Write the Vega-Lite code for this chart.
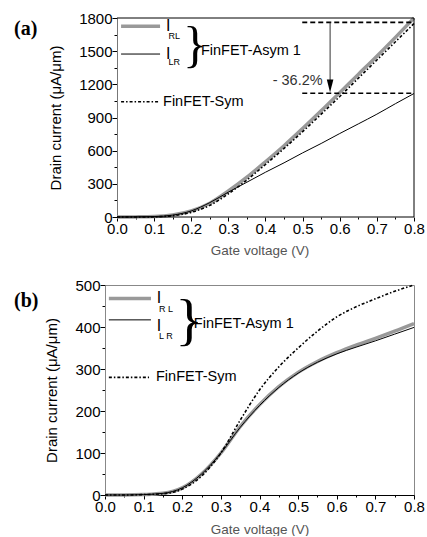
{
  "$schema": "https://vega.github.io/schema/vega-lite/v6.json",
  "background": "white",
  "padding": {"left": 13, "top": 11, "right": 0, "bottom": 0},
  "columns": 1,
  "spacing": 20,
  "config": {
    "font": "Liberation Sans",
    "view": {"stroke": "#000", "strokeWidth": 1},
    "axis": {"grid": false, "labelFont": "Liberation Sans", "labelFontSize": 15, "labelColor": "#000", "titleFont": "Liberation Sans", "domainColor": "#000", "tickColor": "#000", "labelFlush": false, "labelOverlap": false},
    "line": {"interpolate": "monotone"}
  },
  "datasets": {
    "a": [
      {"x": 0, "y": 0, "s": "RL"}, {"x": 0.05, "y": 1, "s": "RL"}, {"x": 0.1, "y": 4, "s": "RL"}, {"x": 0.15, "y": 18, "s": "RL"}, {"x": 0.2, "y": 55, "s": "RL"}, {"x": 0.25, "y": 125, "s": "RL"}, {"x": 0.3, "y": 235, "s": "RL"}, {"x": 0.35, "y": 360, "s": "RL"}, {"x": 0.4, "y": 500, "s": "RL"}, {"x": 0.45, "y": 645, "s": "RL"}, {"x": 0.5, "y": 800, "s": "RL"}, {"x": 0.55, "y": 960, "s": "RL"}, {"x": 0.6, "y": 1125, "s": "RL"}, {"x": 0.65, "y": 1290, "s": "RL"}, {"x": 0.7, "y": 1455, "s": "RL"}, {"x": 0.75, "y": 1625, "s": "RL"}, {"x": 0.8, "y": 1800, "s": "RL"},
      {"x": 0, "y": 0, "s": "LR"}, {"x": 0.05, "y": 1, "s": "LR"}, {"x": 0.1, "y": 4, "s": "LR"}, {"x": 0.15, "y": 17, "s": "LR"}, {"x": 0.2, "y": 55, "s": "LR"}, {"x": 0.25, "y": 130, "s": "LR"}, {"x": 0.3, "y": 225, "s": "LR"}, {"x": 0.35, "y": 315, "s": "LR"}, {"x": 0.4, "y": 405, "s": "LR"}, {"x": 0.45, "y": 490, "s": "LR"}, {"x": 0.5, "y": 580, "s": "LR"}, {"x": 0.55, "y": 665, "s": "LR"}, {"x": 0.6, "y": 755, "s": "LR"}, {"x": 0.65, "y": 842, "s": "LR"}, {"x": 0.7, "y": 930, "s": "LR"}, {"x": 0.75, "y": 1025, "s": "LR"}, {"x": 0.8, "y": 1117, "s": "LR"},
      {"x": 0, "y": 0, "s": "Sym"}, {"x": 0.05, "y": 0, "s": "Sym"}, {"x": 0.1, "y": 2, "s": "Sym"}, {"x": 0.15, "y": 12, "s": "Sym"}, {"x": 0.2, "y": 42, "s": "Sym"}, {"x": 0.25, "y": 105, "s": "Sym"}, {"x": 0.3, "y": 210, "s": "Sym"}, {"x": 0.35, "y": 335, "s": "Sym"}, {"x": 0.4, "y": 475, "s": "Sym"}, {"x": 0.45, "y": 620, "s": "Sym"}, {"x": 0.5, "y": 772, "s": "Sym"}, {"x": 0.55, "y": 930, "s": "Sym"}, {"x": 0.6, "y": 1090, "s": "Sym"}, {"x": 0.65, "y": 1255, "s": "Sym"}, {"x": 0.7, "y": 1420, "s": "Sym"}, {"x": 0.75, "y": 1585, "s": "Sym"}, {"x": 0.8, "y": 1750, "s": "Sym"}
    ],
    "b": [
      {"x": 0, "y": 0, "s": "RL"}, {"x": 0.05, "y": 0, "s": "RL"}, {"x": 0.1, "y": 1, "s": "RL"}, {"x": 0.15, "y": 4, "s": "RL"}, {"x": 0.2, "y": 17, "s": "RL"}, {"x": 0.25, "y": 50, "s": "RL"}, {"x": 0.3, "y": 100, "s": "RL"}, {"x": 0.35, "y": 163, "s": "RL"}, {"x": 0.4, "y": 215, "s": "RL"}, {"x": 0.45, "y": 258, "s": "RL"}, {"x": 0.5, "y": 292, "s": "RL"}, {"x": 0.55, "y": 318, "s": "RL"}, {"x": 0.6, "y": 339, "s": "RL"}, {"x": 0.65, "y": 357, "s": "RL"}, {"x": 0.7, "y": 373, "s": "RL"}, {"x": 0.75, "y": 390, "s": "RL"}, {"x": 0.8, "y": 408, "s": "RL"},
      {"x": 0, "y": 0, "s": "LR"}, {"x": 0.05, "y": 0, "s": "LR"}, {"x": 0.1, "y": 1, "s": "LR"}, {"x": 0.15, "y": 4, "s": "LR"}, {"x": 0.2, "y": 17, "s": "LR"}, {"x": 0.25, "y": 50, "s": "LR"}, {"x": 0.3, "y": 100, "s": "LR"}, {"x": 0.35, "y": 161, "s": "LR"}, {"x": 0.4, "y": 213, "s": "LR"}, {"x": 0.45, "y": 256, "s": "LR"}, {"x": 0.5, "y": 290, "s": "LR"}, {"x": 0.55, "y": 316, "s": "LR"}, {"x": 0.6, "y": 336, "s": "LR"}, {"x": 0.65, "y": 352, "s": "LR"}, {"x": 0.7, "y": 367, "s": "LR"}, {"x": 0.75, "y": 383, "s": "LR"}, {"x": 0.8, "y": 399, "s": "LR"},
      {"x": 0, "y": 0, "s": "Sym"}, {"x": 0.05, "y": 0, "s": "Sym"}, {"x": 0.1, "y": 1, "s": "Sym"}, {"x": 0.15, "y": 3, "s": "Sym"}, {"x": 0.2, "y": 14, "s": "Sym"}, {"x": 0.25, "y": 45, "s": "Sym"}, {"x": 0.3, "y": 100, "s": "Sym"}, {"x": 0.35, "y": 178, "s": "Sym"}, {"x": 0.4, "y": 250, "s": "Sym"}, {"x": 0.45, "y": 305, "s": "Sym"}, {"x": 0.5, "y": 350, "s": "Sym"}, {"x": 0.55, "y": 390, "s": "Sym"}, {"x": 0.6, "y": 424, "s": "Sym"}, {"x": 0.65, "y": 448, "s": "Sym"}, {"x": 0.7, "y": 467, "s": "Sym"}, {"x": 0.75, "y": 485, "s": "Sym"}, {"x": 0.8, "y": 500, "s": "Sym"}
    ],
    "legA": [
      {"s": "RL", "x": 0.011, "x2": 0.116, "y": 1725}, {"s": "LR", "x": 0.011, "x2": 0.116, "y": 1474}, {"s": "Sym", "x": 0.011, "x2": 0.116, "y": 1042}
    ],
    "legB": [
      {"s": "RL", "x": 0.01, "x2": 0.119, "y": 468}, {"s": "LR", "x": 0.01, "x2": 0.119, "y": 417}, {"s": "Sym", "x": 0.01, "x2": 0.114, "y": 280}
    ]
  },
  "concat": [
    {
      "width": 309,
      "height": 199,
      "view": {"stroke": null},
      "title": {"text": "(a)", "anchor": "start", "frame": "group", "font": "Liberation Serif", "fontWeight": "bold", "fontSize": 20, "dx": -91, "dy": 28, "offset": 0, "color": "#000"},
      "layer": [
        {
          "data": {"name": "a"},
          "transform": [{"filter": "datum.s == 'RL'"}],
          "mark": {"type": "line", "color": "#999999", "strokeWidth": 3.5},
          "encoding": {
            "x": {"field": "x", "type": "quantitative", "scale": {"domain": [-0.0323, 0.8], "nice": false, "zero": false},
              "axis": {"title": "Gate voltage (V)", "values": [0, 0.05, 0.1, 0.15, 0.2, 0.25, 0.3, 0.35, 0.4, 0.45, 0.5, 0.55, 0.6, 0.65, 0.7, 0.75, 0.8], "tickCount": 40, "domain": false,
                "labelExpr": "abs(datum.value*10 - round(datum.value*10)) > 0.01 ? '' : format(datum.value, '.1f')",
                "tickSize": {"condition": {"test": "abs(datum.value*10 - round(datum.value*10)) > 0.01", "value": 2}, "value": 4},
                "labelOverlap": false, "labelPadding": 0, "titleColor": "#555", "titleFontSize": 13.5, "titleFontWeight": "normal", "titlePadding": 7.5}},
            "y": {"field": "y", "type": "quantitative", "scale": {"domain": [0, 1800], "nice": false},
              "axis": {"title": "Drain current (μA/μm)", "values": [0, 150, 300, 450, 600, 750, 900, 1050, 1200, 1350, 1500, 1650, 1800], "tickCount": 40, "offset": -12,
                "labelExpr": "datum.value % 300 == 0 ? format(datum.value, 'd') : ''",
                "tickSize": {"condition": {"test": "datum.value % 300 != 0", "value": 3}, "value": 5},
                "labelOverlap": false, "labelPadding": 0, "domainColor": "#777", "titleColor": "#000", "titleFontSize": 15, "titleFontWeight": "normal", "titlePadding": 15}}
          }
        },
        {
          "data": {"values": [{"x": 0, "x2": 0.8, "y": 0}, {"x": 0, "x2": 0.8, "y": 1800}]},
          "mark": {"type": "rule", "color": "#000", "strokeWidth": 1},
          "encoding": {"x": {"field": "x", "type": "quantitative"}, "x2": {"field": "x2"}, "y": {"field": "y", "type": "quantitative"}}
        },
        {
          "data": {"values": [{"x": 0.8, "y": 0, "y2": 1800}]},
          "mark": {"type": "rule", "color": "#000", "strokeWidth": 1},
          "encoding": {"x": {"field": "x", "type": "quantitative"}, "y": {"field": "y", "type": "quantitative"}, "y2": {"field": "y2"}}
        },
        {
          "data": {"name": "a"},
          "transform": [{"filter": "datum.s == 'Sym'"}],
          "mark": {"type": "line", "color": "#000", "strokeWidth": 1.6, "strokeDash": [3, 2, 1.5, 2]},
          "encoding": {"x": {"field": "x", "type": "quantitative"}, "y": {"field": "y", "type": "quantitative"}}
        },
        {
          "data": {"name": "a"},
          "transform": [{"filter": "datum.s == 'LR'"}],
          "mark": {"type": "line", "color": "#000", "strokeWidth": 1},
          "encoding": {"x": {"field": "x", "type": "quantitative"}, "y": {"field": "y", "type": "quantitative"}}
        },
        {
          "data": {"values": [{"x": 0.499, "x2": 0.8, "y": 1760}, {"x": 0.499, "x2": 0.8, "y": 1120}]},
          "mark": {"type": "rule", "color": "#000", "strokeWidth": 1.6, "strokeDash": [5, 3]},
          "encoding": {"x": {"field": "x", "type": "quantitative"}, "x2": {"field": "x2"}, "y": {"field": "y", "type": "quantitative"}}
        },
        {
          "data": {"values": [{"x": 0.574, "y": 1760, "y2": 1200}]},
          "mark": {"type": "rule", "color": "#333", "strokeWidth": 1},
          "encoding": {"x": {"field": "x", "type": "quantitative"}, "y": {"field": "y", "type": "quantitative"}, "y2": {"field": "y2"}}
        },
        {
          "data": {"values": [{"x": 0.574, "y": 1185}]},
          "mark": {"type": "point", "shape": "M-0.5,-1L0.5,-1L0,1Z", "filled": true, "color": "#000", "size": 170, "opacity": 1},
          "encoding": {"x": {"field": "x", "type": "quantitative"}, "y": {"field": "y", "type": "quantitative"}}
        },
        {
          "data": {"values": [{"x": 0.554, "y": 1230, "t": "- 36.2%"}]},
          "mark": {"type": "text", "align": "right", "baseline": "middle", "fontSize": 14.5, "color": "#333"},
          "encoding": {"x": {"field": "x", "type": "quantitative"}, "y": {"field": "y", "type": "quantitative"}, "text": {"field": "t"}}
        },
        {
          "data": {"name": "legA"},
          "transform": [{"filter": "datum.s == 'RL'"}],
          "mark": {"type": "rule", "color": "#999999", "strokeWidth": 3.5},
          "encoding": {"x": {"field": "x", "type": "quantitative"}, "x2": {"field": "x2"}, "y": {"field": "y", "type": "quantitative"}}
        },
        {
          "data": {"name": "legA"},
          "transform": [{"filter": "datum.s == 'LR'"}],
          "mark": {"type": "rule", "color": "#000", "strokeWidth": 1},
          "encoding": {"x": {"field": "x", "type": "quantitative"}, "x2": {"field": "x2"}, "y": {"field": "y", "type": "quantitative"}}
        },
        {
          "data": {"name": "legA"},
          "transform": [{"filter": "datum.s == 'Sym'"}],
          "mark": {"type": "rule", "color": "#000", "strokeWidth": 1.6, "strokeDash": [3, 2, 1.5, 2]},
          "encoding": {"x": {"field": "x", "type": "quantitative"}, "x2": {"field": "x2"}, "y": {"field": "y", "type": "quantitative"}}
        },
        {
          "data": {"values": [{"x": 0.132, "y": 1725, "t": "I"}, {"x": 0.132, "y": 1471, "t": "I"}]},
          "mark": {"type": "text", "align": "left", "baseline": "middle", "fontSize": 16, "color": "#000"},
          "encoding": {"x": {"field": "x", "type": "quantitative"}, "y": {"field": "y", "type": "quantitative"}, "text": {"field": "t"}}
        },
        {
          "data": {"values": [{"x": 0.139, "y": 1634, "t": "RL"}, {"x": 0.139, "y": 1398, "t": "LR"}]},
          "mark": {"type": "text", "align": "left", "baseline": "middle", "fontSize": 9, "color": "#000"},
          "encoding": {"x": {"field": "x", "type": "quantitative"}, "y": {"field": "y", "type": "quantitative"}, "text": {"field": "t"}}
        },
        {
          "data": {"values": [{"x": 0.178, "y": 1548, "t": "}"}]},
          "mark": {"type": "text", "align": "left", "baseline": "middle", "fontSize": 50, "font": "Liberation Serif", "color": "#000"},
          "encoding": {"x": {"field": "x", "type": "quantitative"}, "y": {"field": "y", "type": "quantitative"}, "text": {"field": "t"}}
        },
        {
          "data": {"values": [{"x": 0.226, "y": 1498, "t": "FinFET-Asym 1"}, {"x": 0.124, "y": 1044, "t": "FinFET-Sym"}]},
          "mark": {"type": "text", "align": "left", "baseline": "middle", "fontSize": 14.5, "color": "#000"},
          "encoding": {"x": {"field": "x", "type": "quantitative"}, "y": {"field": "y", "type": "quantitative"}, "text": {"field": "t"}}
        }
      ]
    },
    {
      "width": 309,
      "height": 210,
      "view": {"stroke": "#888"},
      "title": {"text": "(b)", "anchor": "start", "frame": "group", "font": "Liberation Serif", "fontWeight": "bold", "fontSize": 20, "dx": -91, "dy": 33, "offset": 0, "color": "#000"},
      "layer": [
        {
          "data": {"name": "b"},
          "transform": [{"filter": "datum.s == 'RL'"}],
          "mark": {"type": "line", "color": "#999999", "strokeWidth": 3.5},
          "encoding": {
            "x": {"field": "x", "type": "quantitative", "scale": {"domain": [0, 0.8], "nice": false},
              "axis": {"title": "Gate voltage (V)", "values": [0, 0.05, 0.1, 0.15, 0.2, 0.25, 0.3, 0.35, 0.4, 0.45, 0.5, 0.55, 0.6, 0.65, 0.7, 0.75, 0.8], "tickCount": 40,
                "labelExpr": "abs(datum.value*10 - round(datum.value*10)) > 0.01 ? '' : format(datum.value, '.1f')",
                "tickSize": {"condition": {"test": "abs(datum.value*10 - round(datum.value*10)) > 0.01", "value": 2}, "value": 4},
                "labelOverlap": false, "labelPadding": 0, "titleColor": "#555", "titleFontSize": 13.5, "titleFontWeight": "normal", "titlePadding": 8}},
            "y": {"field": "y", "type": "quantitative", "scale": {"domain": [0, 500], "nice": false},
              "axis": {"title": "Drain current (μA/μm)", "values": [0, 50, 100, 150, 200, 250, 300, 350, 400, 450, 500], "tickCount": 40,
                "labelExpr": "datum.value % 100 == 0 ? format(datum.value, 'd') : ''",
                "tickSize": {"condition": {"test": "datum.value % 100 != 0", "value": 3}, "value": 5},
                "labelOverlap": false, "labelPadding": 0, "domainColor": "#888", "titleColor": "#000", "titleFontSize": 15, "titleFontWeight": "normal", "titlePadding": 15}}
          }
        },
        {
          "data": {"name": "b"},
          "transform": [{"filter": "datum.s == 'Sym'"}],
          "mark": {"type": "line", "color": "#000", "strokeWidth": 1.6, "strokeDash": [3, 2, 1.5, 2]},
          "encoding": {"x": {"field": "x", "type": "quantitative"}, "y": {"field": "y", "type": "quantitative"}}
        },
        {
          "data": {"name": "b"},
          "transform": [{"filter": "datum.s == 'LR'"}],
          "mark": {"type": "line", "color": "#000", "strokeWidth": 1},
          "encoding": {"x": {"field": "x", "type": "quantitative"}, "y": {"field": "y", "type": "quantitative"}}
        },
        {
          "data": {"name": "legB"},
          "transform": [{"filter": "datum.s == 'RL'"}],
          "mark": {"type": "rule", "color": "#999999", "strokeWidth": 3.5},
          "encoding": {"x": {"field": "x", "type": "quantitative"}, "x2": {"field": "x2"}, "y": {"field": "y", "type": "quantitative"}}
        },
        {
          "data": {"name": "legB"},
          "transform": [{"filter": "datum.s == 'LR'"}],
          "mark": {"type": "rule", "color": "#000", "strokeWidth": 1},
          "encoding": {"x": {"field": "x", "type": "quantitative"}, "x2": {"field": "x2"}, "y": {"field": "y", "type": "quantitative"}}
        },
        {
          "data": {"name": "legB"},
          "transform": [{"filter": "datum.s == 'Sym'"}],
          "mark": {"type": "rule", "color": "#000", "strokeWidth": 1.6, "strokeDash": [3, 2, 1.5, 2]},
          "encoding": {"x": {"field": "x", "type": "quantitative"}, "x2": {"field": "x2"}, "y": {"field": "y", "type": "quantitative"}}
        },
        {
          "data": {"values": [{"x": 0.134, "y": 468, "t": "I"}, {"x": 0.134, "y": 403, "t": "I"}]},
          "mark": {"type": "text", "align": "left", "baseline": "middle", "fontSize": 16, "color": "#000"},
          "encoding": {"x": {"field": "x", "type": "quantitative"}, "y": {"field": "y", "type": "quantitative"}, "text": {"field": "t"}}
        },
        {
          "data": {"values": [{"x": 0.14, "y": 443, "t": "R L"}, {"x": 0.14, "y": 378, "t": "L R"}]},
          "mark": {"type": "text", "align": "left", "baseline": "middle", "fontSize": 9, "color": "#000"},
          "encoding": {"x": {"field": "x", "type": "quantitative"}, "y": {"field": "y", "type": "quantitative"}, "text": {"field": "t"}}
        },
        {
          "data": {"values": [{"x": 0.182, "y": 413, "t": "}"}]},
          "mark": {"type": "text", "align": "left", "baseline": "middle", "fontSize": 58, "font": "Liberation Serif", "color": "#000"},
          "encoding": {"x": {"field": "x", "type": "quantitative"}, "y": {"field": "y", "type": "quantitative"}, "text": {"field": "t"}}
        },
        {
          "data": {"values": [{"x": 0.23, "y": 407, "t": "FinFET-Asym 1"}, {"x": 0.132, "y": 280, "t": "FinFET-Sym"}]},
          "mark": {"type": "text", "align": "left", "baseline": "middle", "fontSize": 14.5, "color": "#000"},
          "encoding": {"x": {"field": "x", "type": "quantitative"}, "y": {"field": "y", "type": "quantitative"}, "text": {"field": "t"}}
        }
      ]
    }
  ]
}
